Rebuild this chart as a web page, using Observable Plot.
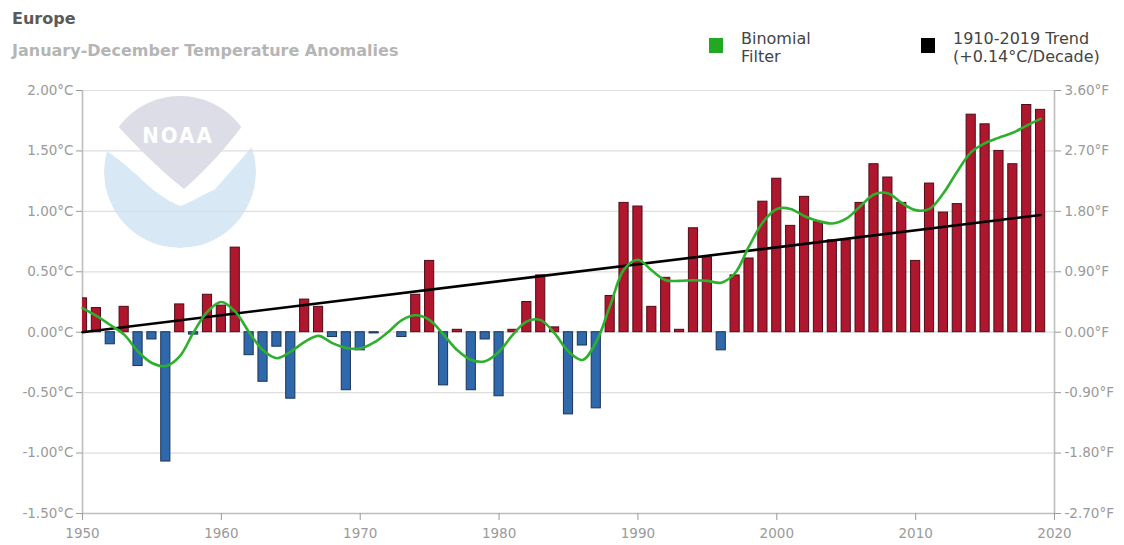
<!DOCTYPE html>
<html>
<head>
<meta charset="utf-8">
<script src="https://cdn.jsdelivr.net/npm/d3@7"></script>
<script src="https://cdn.jsdelivr.net/npm/@observablehq/plot@0.6"></script>
<style>
  body { margin: 0; background: #fff; font-family: "DejaVu Sans", sans-serif; }
  #wrap { position: relative; width: 1124px; height: 545px; overflow: hidden; background: #fff; }
  #chart { position: absolute; left: 0; top: 0; }
  .hdr { position: absolute; white-space: nowrap; line-height: 1; }
  #title { left: 12px; top: 11px; font-size: 16px; font-weight: 700; color: #5a5a5a; }
  #subtitle { left: 12px; top: 43px; font-size: 16px; font-weight: 700; color: #b5b5b5; }
  .swatch { position: absolute; width: 14px; height: 15px; }
  .legtxt { position: absolute; font-size: 16px; color: #444; line-height: 18px; white-space: nowrap; }
</style>
</head>
<body>
<div id="wrap">
  <div id="chart"></div>
  <div class="hdr" id="title">Europe</div>
  <div class="hdr" id="subtitle">January-December Temperature Anomalies</div>
  <div class="swatch" style="left:709px;top:38px;background:#22a822;"></div>
  <div class="legtxt" style="left:741px;top:30px;">Binomial<br>Filter</div>
  <div class="swatch" style="left:921px;top:38px;background:#000;"></div>
  <div class="legtxt" style="left:953px;top:30px;">1910-2019 Trend<br>(+0.14°C/Decade)</div>
</div>
<script>
// Annual (January–December) temperature anomalies for Europe, °C, 1950–2019
const years = d3.range(1950, 2020);
const anomalies = [
  0.28, 0.20, -0.10, 0.21, -0.28, -0.06, -1.07, 0.23, -0.02, 0.31,
  0.22, 0.70, -0.19, -0.41, -0.12, -0.55, 0.27, 0.21, -0.04, -0.48,
  -0.15, -0.01, 0.00, -0.04, 0.31, 0.59, -0.44, 0.02, -0.48, -0.06,
  -0.53, 0.02, 0.25, 0.47, 0.04, -0.68, -0.11, -0.63, 0.30, 1.07,
  1.04, 0.21, 0.45, 0.02, 0.86, 0.62, -0.15, 0.47, 0.61, 1.08,
  1.27, 0.88, 1.12, 0.91, 0.76, 0.76, 1.07, 1.39, 1.28, 1.07,
  0.59, 1.23, 0.99, 1.06, 1.80, 1.72, 1.50, 1.39, 1.88, 1.84
];
// Binomial filter (smoothed anomalies), °C
const binomialFilter = [
  0.20, 0.135, 0.06, -0.02, -0.16, -0.255, -0.28, -0.20, 0.00, 0.17,
  0.25, 0.17, 0.00, -0.15, -0.215, -0.16, -0.08, -0.03, -0.09, -0.13,
  -0.135, -0.085, 0.00, 0.10, 0.14, 0.10, -0.02, -0.15, -0.23, -0.24,
  -0.16, -0.02, 0.09, 0.10, -0.01, -0.16, -0.23, -0.08, 0.22, 0.52,
  0.60, 0.51, 0.43, 0.425, 0.43, 0.425, 0.41, 0.49, 0.71, 0.91,
  1.02, 1.02, 0.96, 0.92, 0.90, 0.94, 1.04, 1.14, 1.15, 1.07,
  1.01, 1.02, 1.15, 1.33, 1.49, 1.565, 1.61, 1.65, 1.71, 1.765
];
// Linear trend (+0.14 °C per decade)
const trendYears = [1950, 2019];
const trendValues = [0.00, 0.97];

// Axis ticks and labels
const xTicks = [1950, 1960, 1970, 1980, 1990, 2000, 2010, 2020];
const celsiusTicks = [-1.5, -1.0, -0.5, 0.0, 0.5, 1.0, 1.5, 2.0];
const celsiusLabels = ["-1.50°C", "-1.00°C", "-0.50°C", "0.00°C", "0.50°C", "1.00°C", "1.50°C", "2.00°C"];
const fahrenheitLabels = ["-2.70°F", "-1.80°F", "-0.90°F", "0.00°F", "0.90°F", "1.80°F", "2.70°F", "3.60°F"];

const bars = years.map((year, i) => ({year, value: anomalies[i]}));
const filterLine = years.map((year, i) => ({year, value: binomialFilter[i]}));
const trendLine = trendYears.map((year, i) => ({year, value: trendValues[i]}));

const labelOf = (labels) => (d) => labels[celsiusTicks.findIndex((t) => Math.abs(t - d) < 1e-9)];
const halfWidth = 0.33;
const tickFont = "'DejaVu Sans', sans-serif";

const chart = Plot.plot({
  width: 1124,
  height: 545,
  marginTop: 90,
  marginBottom: 32,
  marginLeft: 82,
  marginRight: 70,
  style: {background: "#fff", fontFamily: tickFont},
  x: {domain: [1950, 2020]},
  y: {domain: [-1.5, 2.0]},
  marks: [
    Plot.gridY(celsiusTicks, {stroke: "#dedede", strokeOpacity: 1, strokeWidth: 1.2}),
    Plot.ruleX([1950, 2020], {stroke: "#bdbdbd", strokeWidth: 1.6}),
    Plot.ruleY([-1.5], {stroke: "#bdbdbd", strokeWidth: 1.6}),
    Plot.axisY({anchor: "left", ticks: celsiusTicks, tickFormat: labelOf(celsiusLabels), label: null,
      tickSize: 6, tickPadding: 3, fontSize: 13.5, color: "#9a9a9a"}),
    Plot.axisY({anchor: "right", ticks: celsiusTicks, tickFormat: labelOf(fahrenheitLabels), label: null,
      tickSize: 6, tickPadding: 4, fontSize: 13.5, color: "#9a9a9a"}),
    Plot.axisX({ticks: xTicks, tickFormat: (d) => String(d), label: null,
      tickSize: 7, tickPadding: 8, fontSize: 13.5, color: "#9a9a9a"}),
    Plot.rect(bars.filter((d) => d.value >= 0), {
      x1: (d) => d.year - halfWidth, x2: (d) => d.year + halfWidth, y1: 0, y2: "value",
      fill: "#ae172e", stroke: "#4d0d16", strokeWidth: 1, clip: true
    }),
    Plot.rect(bars.filter((d) => d.value < 0), {
      x1: (d) => d.year - halfWidth, x2: (d) => d.year + halfWidth, y1: 0, y2: "value",
      fill: "#2f69ab", stroke: "#1a3458", strokeWidth: 1, clip: true
    }),
    Plot.line(trendLine, {x: "year", y: "value", stroke: "#000", strokeWidth: 2.6}),
    Plot.line(filterLine, {x: "year", y: "value", stroke: "#2eb02e", strokeWidth: 2.6, curve: "catmull-rom"})
  ]
});

// NOAA emblem watermark behind the plotted marks
const svg = d3.select(chart);
const logo = svg.insert("g", ":first-child").attr("class", "emblem");
const cx = 180, cy = 172, r = 76;
logo.append("defs").append("clipPath").attr("id", "emblem-clip")
  .append("circle").attr("cx", cx).attr("cy", cy).attr("r", r);
const inner = logo.append("g").attr("clip-path", "url(#emblem-clip)");
inner.append("circle").attr("cx", cx).attr("cy", cy).attr("r", r).attr("fill", "#d8e8f4");
inner.append("path").attr("fill", "#ffffff")
  .attr("d", "M95,90 L265,90 L265,132 C240,160 222,182 214,190 C200,196 190,203 180,206 C165,200 150,188 138,176 C122,162 110,152 95,144 Z");
inner.append("path").attr("fill", "#dddde7")
  .attr("d", "M112,90 L248,90 L248,118 C228,146 206,170 184,189 C160,170 136,146 114,122 Z");
logo.append("text").attr("x", 178).attr("y", 143).attr("text-anchor", "middle")
  .attr("fill", "#ffffff").attr("font-family", "'DejaVu Sans Condensed', 'DejaVu Sans', sans-serif").attr("font-weight", 700)
  .attr("font-size", 22).attr("letter-spacing", 2).text("NOAA");

document.getElementById("chart").appendChild(chart);
</script>
</body>
</html>
